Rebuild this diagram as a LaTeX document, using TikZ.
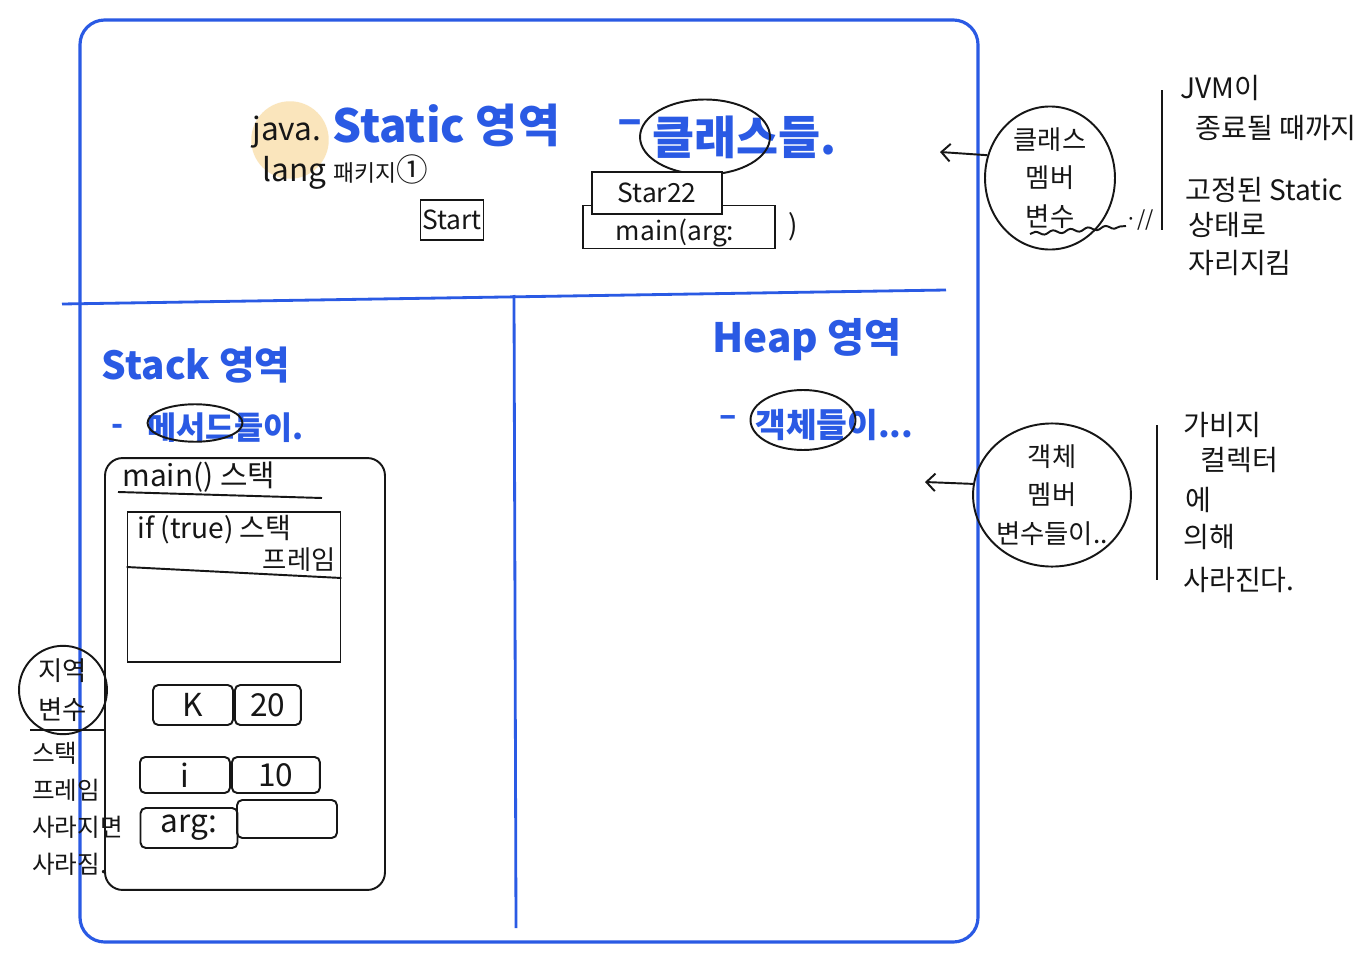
\documentclass[tikz,border=0pt]{standalone}
\usepackage{fontspec}
\setmainfont{Noto Sans CJK KR}
\definecolor{penblue}{RGB}{42,90,228}
\definecolor{penblack}{RGB}{22,22,22}
\definecolor{marker}{RGB}{250,229,188}
\usetikzlibrary{shapes.geometric, arrows.meta, positioning, calc, decorations.pathmorphing}
\tikzset{
    frame/.style={draw=penblue, line width=1.8pt, rounded corners=14pt},
    divider/.style={draw=penblue, line width=1.6pt},
    title/.style={text=penblue, font=\fontsize{26}{30}\selectfont\bfseries, inner sep=0pt},
    subtitle/.style={text=penblue, font=\fontsize{18}{22}\selectfont\bfseries, inner sep=0pt},
    note/.style={text=penblack, font=\fontsize{16}{22}\selectfont, align=left, inner sep=0pt},
    ring/.style={ellipse, draw=penblack, line width=1.1pt, inner sep=0pt},
    roundnote/.style={ellipse, draw=penblack, line width=1.1pt, align=center,
        font=\fontsize{15}{22}\selectfont, text=penblack, inner sep=0pt},
    tag/.style={draw=penblack, line width=1.1pt, font=\fontsize{15}{18}\selectfont,
        text=penblack, inner sep=0pt},
    cell/.style={draw=penblack, line width=1.1pt, font=\fontsize{18}{20}\selectfont,
        text=penblack, inner sep=0pt, rounded corners=3pt},
    hilite/.style={circle, fill=marker, inner sep=0pt},
    pen/.style={draw=penblack, line width=1.1pt},
    pointer/.style={-{Straight Barb[length=5pt, width=10pt]}, line width=1.1pt, penblack}
}
\begin{document}
\begin{tikzpicture}[x=0.02cm, y=-0.02cm]
    \useasboundingbox (0,0) rectangle (1357,960);
    \fill[white] (0,0) rectangle (1357,960);

    % Memory frame
    \draw[frame] (80,20) rectangle (978,942);
    \draw[divider] (62,304) -- (946,290);
    \draw[divider] (514,295) -- (516,928);

    % Static area
    \node[hilite, minimum size=1.55cm] (javamark) at (290,140) {};
    \node[title, anchor=west] (statictitle) at (332,125) {Static 영역};
    \node[title] (staticdash) at (630,128) {–};
    \node[title, anchor=west] (classes) at (652,137) {클래스들.};
    \node[ring, minimum width=2.6cm, minimum height=1.5cm] (classring) at (705,137) {};
    \node[note, font=\fontsize{18}{20}\selectfont, anchor=west] (javapkg) at (252,132) {java.};
    \node[note, font=\fontsize{18}{20}\selectfont, anchor=west] (langpkg) at (262,172)
        {lang {\fontsize{13}{15}\selectfont 패키지}①};
    \node[tag, minimum width=1.26cm, minimum height=0.8cm] (startbox) at (452,220) {Start};
    \node[tag, minimum width=3.84cm, minimum height=0.86cm] (mainbox) at (679,227) {};
    \node[tag, fill=white, minimum width=2.6cm, minimum height=0.84cm] (starbox) at (657,193) {Star22};
    \node[note, font=\fontsize{15}{18}\selectfont] (mainargs) at (675,233) {main(arg:};
    \node[note, font=\fontsize{16}{20}\selectfont, right=0.25cm of mainbox] (mainclose) {)};

    % Class member note
    \node[roundnote, minimum width=2.6cm, minimum height=2.6cm] (clsmem) at (1050,178) {클래스\\멤버\\변수};
    \coordinate (clshook) at (940,152);
    \draw[pointer] (clsmem.160) -- (clshook);
    \draw[pen, decorate, decoration={snake, amplitude=1pt, segment length=10pt}]
        (1030,234) -- (1126,226);
    \node[note, font=\fontsize{12}{14}\selectfont] (clsticks) at (1140,220) {·//};
    \draw[pen] (1162,90) -- (1162,230);
    \node[note, anchor=west] (jvm1) at (1180,88) {JVM이};
    \node[note, anchor=west] (jvm2) at (1195,128) {종료될 때까지};
    \node[note, anchor=west] (jvm3) at (1185,190) {고정된 Static};
    \node[note, anchor=west] (jvm4) at (1188,225) {상태로};
    \node[note, anchor=west] (jvm5) at (1188,263) {자리지킴};

    % Stack area
    \node[subtitle, font=\fontsize{22}{26}\selectfont\bfseries] (stacktitle) at (196,365) {Stack 영역};
    \node[subtitle] (stackdash) at (118,430) {-};
    \node[subtitle, anchor=west] (methods) at (147,428) {메서드들이.};
    \node[ring, minimum width=1.9cm, minimum height=0.75cm] (methodring) at (195,423) {};

    \node[pen, rounded corners=10pt, minimum width=5.6cm, minimum height=8.64cm] (mainframe) at (245,674) {};
    \node[note, font=\fontsize{17}{20}\selectfont, anchor=west] (mainlabel) at (122,477) {main() 스택};
    \draw[pen] (118,492) -- (322,498);
    \node[pen, minimum width=4.26cm, minimum height=3cm] (ifframe) at (234,587) {};
    \draw[pen] (ifframe.west |- 0,567) -- (ifframe.east |- 0,578);
    \node[note, anchor=west] (iflabel) at (137,530) {if (true) 스택};
    \node[note, font=\fontsize{15}{18}\selectfont, anchor=east] (ifframelabel) at (336,560) {프레임};

    \node[cell, minimum width=1.6cm, minimum height=0.8cm] (kname) at (193,705) {K};
    \node[cell, minimum width=1.32cm, minimum height=0.8cm, right=0pt of kname] (kval) {20};
    \node[cell, minimum width=1.8cm, minimum height=0.72cm] (iname) at (185,775) {i};
    \node[cell, minimum width=1.76cm, minimum height=0.72cm, right=0pt of iname] (ival) {10};
    \node[cell, minimum width=1.94cm, minimum height=0.8cm] (argname) at (189,828) {arg:};
    \node[cell, minimum width=2cm, minimum height=0.76cm] (argval) at (287,819) {};

    % Local variable note
    \node[roundnote, minimum size=1.76cm] (localvar) at (63,690) {지역\\변수};
    \draw[pen] (30,730) -- (104,730);
    \node[note, font=\fontsize{14}{21}\selectfont, anchor=north west] (localgone) at (32,742)
        {스택\\프레임\\사라지면\\사라짐.};

    % Heap area
    \node[subtitle, font=\fontsize{23}{27}\selectfont\bfseries] (heaptitle) at (807,340) {Heap 영역};
    \node[subtitle] (heapdash) at (728,421) {–};
    \node[subtitle, font=\fontsize{19}{22}\selectfont\bfseries, anchor=west] (objects) at (755,425) {객체들이...};
    \node[ring, minimum width=2.1cm, minimum height=1.2cm] (objring) at (803,420) {};

    % Object member note
    \node[roundnote, minimum width=3.1cm, minimum height=2.8cm] (objmem) at (1052,495) {객체\\멤버\\변수들이..};
    \coordinate (objhook) at (925,482);
    \draw[pointer] (objmem.172) -- (objhook);
    \draw[pen] (1157,425) -- (1157,580);
    \node[note, anchor=west] (gc1) at (1183,425) {가비지};
    \node[note, anchor=west] (gc2) at (1200,460) {컬렉터};
    \node[note, anchor=west] (gc3) at (1185,500) {에};
    \node[note, anchor=west] (gc4) at (1183,537) {의해};
    \node[note, anchor=west] (gc5) at (1183,580) {사라진다.};
\end{tikzpicture}
\end{document}
